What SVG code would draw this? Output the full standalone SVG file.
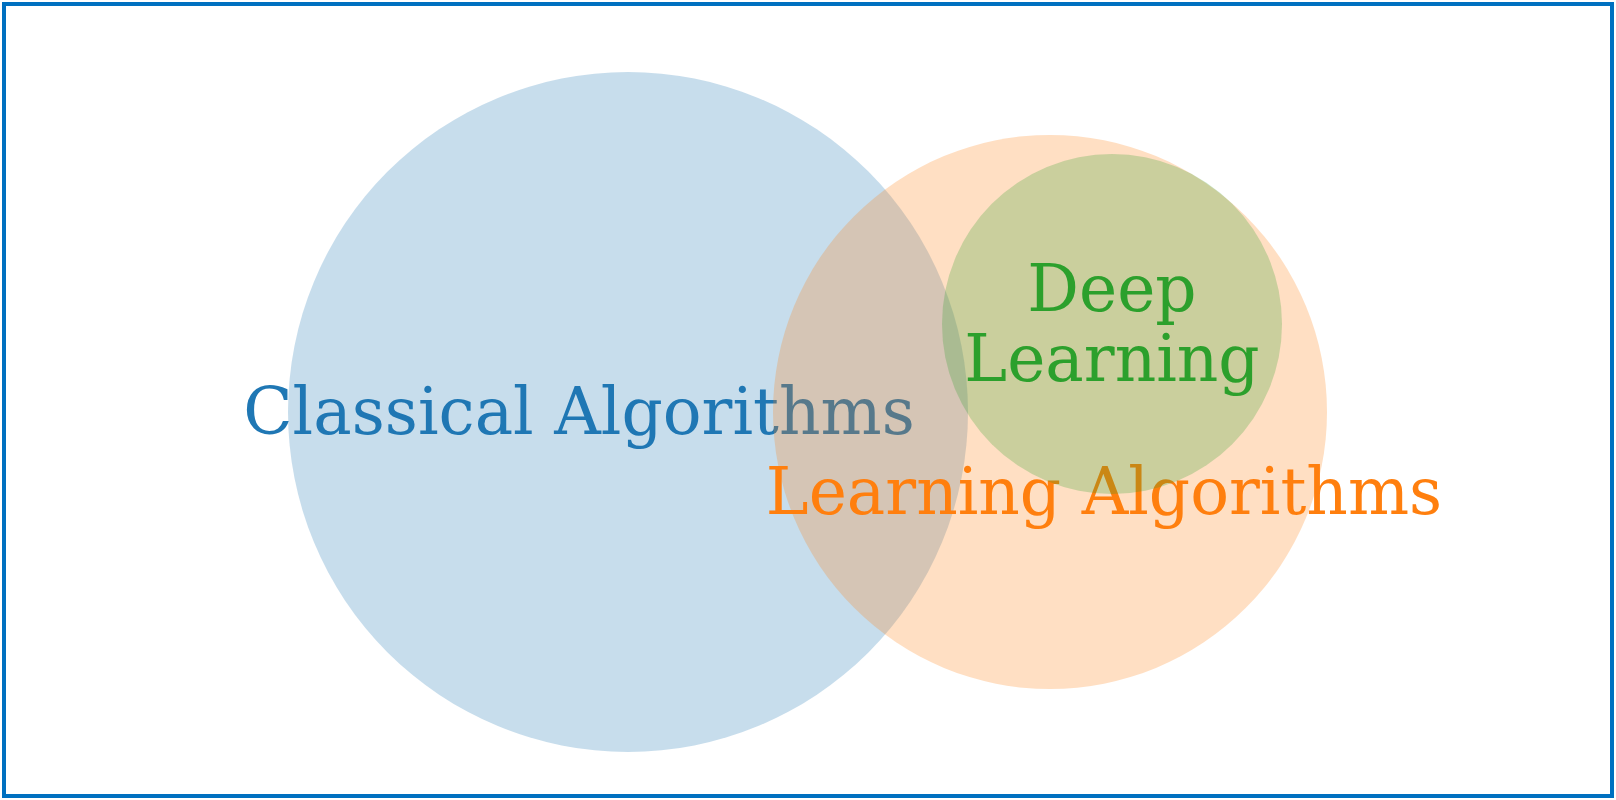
<svg xmlns="http://www.w3.org/2000/svg" width="1616" height="800" viewBox="0 0 1616 800">
<style>
.t{font-family:"DejaVu Serif",serif;font-size:64.5px;text-anchor:middle}
</style>
<rect x="0" y="0" width="1616" height="800" fill="#ffffff"/>
<g id="classical">
<circle cx="628" cy="412" r="340" fill="#1f77b4" fill-opacity="0.25"/>
<text class="t" x="579" y="434" fill="#1f77b4">Classical Algorithms</text>
</g>
<g id="learning">
<circle cx="1050" cy="412" r="277" fill="#ff7f0e" fill-opacity="0.25"/>
<text class="t" x="1104" y="514" fill="#ff7f0e">Learning Algorithms</text>
</g>
<g id="deep">
<circle cx="1112" cy="324" r="170" fill="#2ca02c" fill-opacity="0.25"/>
<text class="t" x="1112" y="311" fill="#2ca02c">Deep</text>
<text class="t" x="1112" y="381" fill="#2ca02c">Learning</text>
</g>
<g id="connectors"></g>
<rect x="4" y="4" width="1608" height="792" fill="none" stroke="#0070c0" stroke-width="4"/>
</svg>
